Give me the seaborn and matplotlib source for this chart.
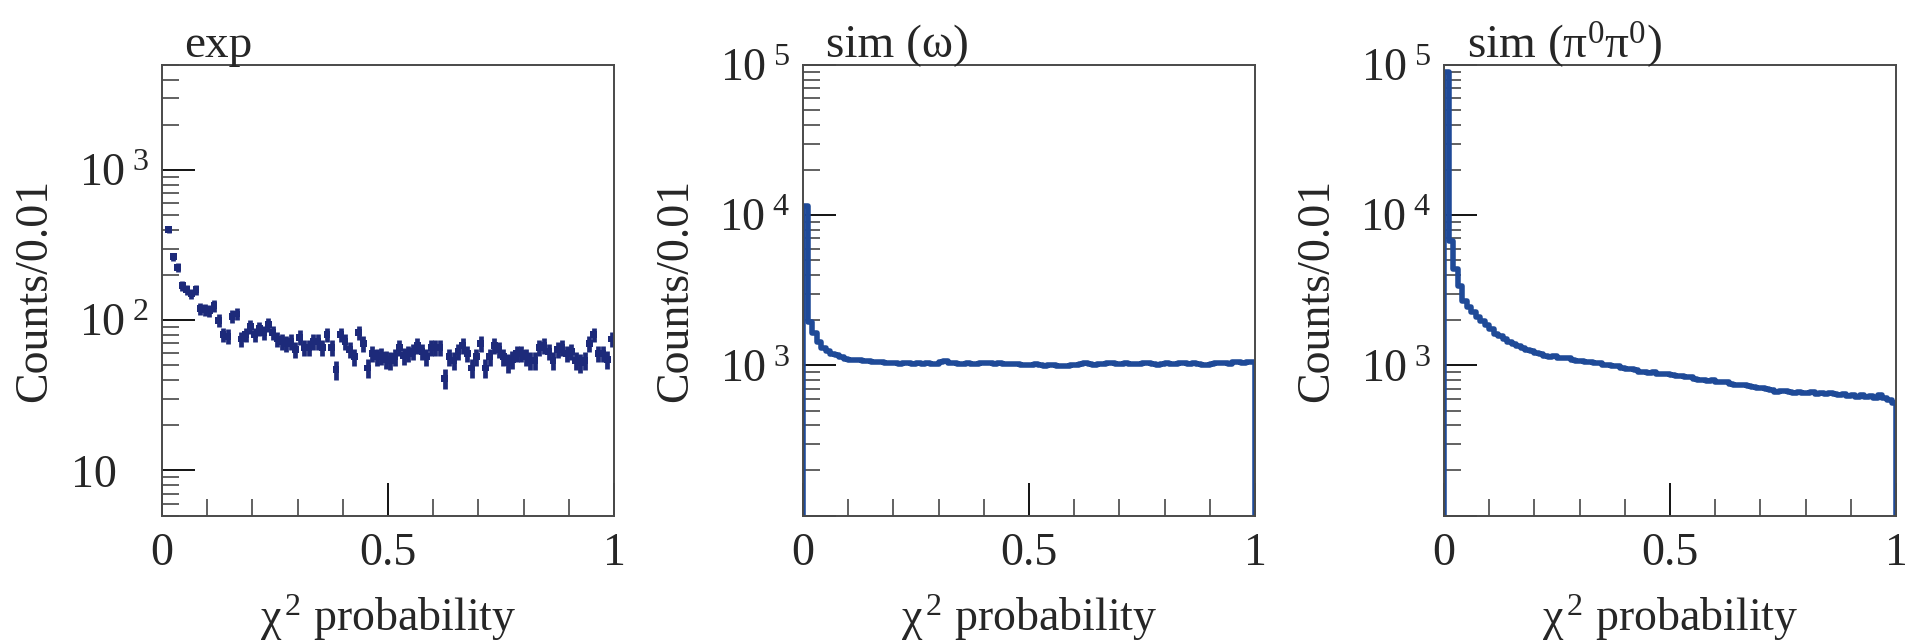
import numpy as np
import pandas as pd
import matplotlib
matplotlib.use("Agg")
import matplotlib.pyplot as plt
from matplotlib.ticker import FixedLocator, FixedFormatter, LogLocator, NullFormatter
from matplotlib.transforms import ScaledTranslation
import seaborn as sns

# ---- binning: 100 bins of width 0.01 in chi2 probability ----
bin_edges = np.linspace(0.0, 1.0, 101)
bin_centers = 0.5 * (bin_edges[:-1] + bin_edges[1:])

# ---- experimental data (first bin lies above the plotted range) ----
exp_counts = [np.nan,
    400, 265, 224, 170, 160, 150, 160, 120, 118, 115,
    125, 100, 80, 78, 106, 110, 75, 80, 91, 80,
    88, 83, 93, 83, 75, 72, 70, 72, 64, 77,
    66, 66, 72, 72, 66, 80, 66, 47, 80, 72,
    64, 57, 83, 70, 48, 60, 57, 58, 55, 54,
    57, 66, 58, 60, 62, 68, 62, 57, 66, 66,
    66, 41, 57, 54, 62, 68, 60, 48, 57, 70,
    48, 57, 68, 64, 57, 52, 55, 60, 60, 57,
    54, 54, 66, 68, 62, 54, 64, 66, 60, 62,
    54, 52, 54, 70, 80, 60, 60, 55, 75]

# ---- simulation: omega channel ----
omega_counts = [
    11500, 1950, 1650, 1420, 1300, 1240, 1190, 1170, 1130, 1110,
    1090, 1080, 1085, 1070, 1065, 1060, 1050, 1045, 1040, 1030,
    1035, 1020, 1030, 1040, 1025, 1030, 1020, 1035, 1020, 1025,
    1045, 1075, 1040, 1030, 1020, 1025, 1030, 1015, 1020, 1030,
    1035, 1040, 1025, 1030, 1020, 1015, 1025, 1020, 1010, 1000,
    1005, 1015, 1000, 995, 1010, 1005, 990, 985, 995, 1000,
    1010, 1020, 1030, 1015, 1010, 1025, 1020, 1030, 1040, 1025,
    1020, 1030, 1025, 1015, 1020, 1030, 1035, 1020, 1010, 1025,
    1030, 1020, 1025, 1035, 1030, 1015, 1030, 1025, 1000, 1010,
    1025, 1030, 1040, 1030, 1020, 1045, 1060, 1040, 1055, 1050]

# ---- simulation: pi0 pi0 channel ----
pi0pi0_counts = [
    90000, 6700, 4400, 3400, 2700, 2450, 2250, 2100, 1980, 1850,
    1740, 1620, 1560, 1500, 1440, 1380, 1340, 1300, 1270, 1240,
    1210, 1190, 1160, 1140, 1150, 1120, 1115, 1120, 1090, 1070,
    1065, 1050, 1060, 1030, 1035, 1010, 1000, 985, 990, 965,
    950, 940, 930, 905, 900, 890, 905, 880, 870, 880,
    860, 855, 850, 840, 835, 815, 805, 800, 790, 795,
    780, 770, 775, 750, 745, 740, 735, 725, 720, 705,
    710, 700, 690, 665, 680, 675, 660, 650, 665, 655,
    650, 660, 645, 650, 640, 655, 640, 630, 640, 625,
    630, 620, 635, 615, 625, 610, 630, 605, 590, 560]

x_ticks = [0.0, 0.5, 1.0]
x_ticklabels = ["0", "0.5", "1"]
x_minor = [0.1, 0.2, 0.3, 0.4, 0.6, 0.7, 0.8, 0.9]

titles = ["exp", "sim (ω)", "sim (π$^{0}$π$^{0}$)"]
y_ranges = [(5, 5000), (100, 1e5), (100, 1e5)]
y_majors = [[10, 100, 1000], [100, 1000, 10000, 100000], [100, 1000, 10000, 100000]]
y_labels = [["10", r"$10^{\ 2}$", r"$10^{\ 3}$"],
            ["", r"$10^{\ 3}$", r"$10^{\ 4}$", r"$10^{\ 5}$"],
            ["", r"$10^{\ 3}$", r"$10^{\ 4}$", r"$10^{\ 5}$"]]

exp_color = "#1d2a7a"
sim_color = "#1f4a98"

sns.set_style("ticks")
plt.rcParams.update({
    "font.family": ["Liberation Serif", "DejaVu Serif"],
    "mathtext.fontset": "custom",
    "mathtext.rm": "Liberation Serif",
    "mathtext.it": "Liberation Serif:italic",
    "mathtext.bf": "Liberation Serif:bold",
    "axes.edgecolor": "#4a4a4a",
    "axes.linewidth": 1.4,
})

FS = 33
fig = plt.figure(figsize=(19.05, 6.44), dpi=100)
lefts = [162 / 1905, 803 / 1905, 1444 / 1905]
axes = [fig.add_axes([l, 0.1995, 0.2373, 0.6995]) for l in lefts]

# experimental points with Poisson errors
ax = axes[0]
exp_arr = np.array(exp_counts, dtype=float)
ax.errorbar(bin_centers, exp_arr, yerr=np.sqrt(exp_arr), fmt="none",
            ecolor=exp_color, elinewidth=3.4, capsize=0)
sns.scatterplot(x=bin_centers, y=exp_arr, marker="s", s=24, color=exp_color,
                edgecolor="none", ax=ax, legend=False)

# simulated histograms as step outlines
for ax, counts, (ymin, ymax) in zip(axes[1:], [omega_counts, pi0pi0_counts], y_ranges[1:]):
    hist_df = pd.DataFrame({"prob": bin_centers, "counts": counts})
    sns.histplot(data=hist_df, x="prob", weights="counts", bins=bin_edges.tolist(),
                 element="step", fill=False, color=sim_color, linewidth=4.0, ax=ax)
    ax.vlines([bin_edges[0]], ymin, counts[0], color=sim_color, linewidth=4.0)
    ax.vlines([bin_edges[-1]], ymin, counts[-1], color=sim_color, linewidth=4.0)

for ax, title, (ymin, ymax), majors, labels in zip(axes, titles, y_ranges, y_majors, y_labels):
    ax.set_yscale("log")
    ax.set_xlim(0, 1)
    ax.set_ylim(ymin, ymax)
    ax.xaxis.set_major_locator(FixedLocator(x_ticks))
    ax.xaxis.set_major_formatter(FixedFormatter(x_ticklabels))
    ax.xaxis.set_minor_locator(FixedLocator(x_minor))
    ax.yaxis.set_major_locator(FixedLocator(majors))
    ax.yaxis.set_major_formatter(FixedFormatter(labels))
    ax.yaxis.set_minor_locator(LogLocator(base=10, subs=np.arange(2, 10), numticks=30))
    ax.yaxis.set_minor_formatter(NullFormatter())
    ax.tick_params(which="major", direction="in", length=23.5, width=1.3,
                   color="black", labelsize=FS, top=False, right=False)
    ax.tick_params(which="minor", direction="in", length=12.5, width=1.3,
                   color="#555555", top=False, right=False)
    ax.tick_params(axis="x", which="major", pad=12)
    ax.tick_params(axis="y", which="major", pad=9)
    ax.set_xlabel("χ$^{\\,2}$ probability", fontsize=FS)
    ax.set_ylabel("Counts/0.01", fontsize=FS)
    ax.xaxis.set_label_coords(0.5, -0.172)
    ax.yaxis.set_label_coords(-0.235, 0.5)
    ax.text(0.05, 1.017, title, transform=ax.transAxes, fontsize=FS + 1,
            va="baseline", ha="left")

# the plain "10" label sits aligned with the mantissas of the powers above it
plain_tick = axes[0].yaxis.get_major_ticks()[0]
plain_tick.label1.set_transform(plain_tick.label1.get_transform()
                                + ScaledTranslation(-0.33, 0, fig.dpi_scale_trans))

fig.savefig("out.png", dpi=100)
